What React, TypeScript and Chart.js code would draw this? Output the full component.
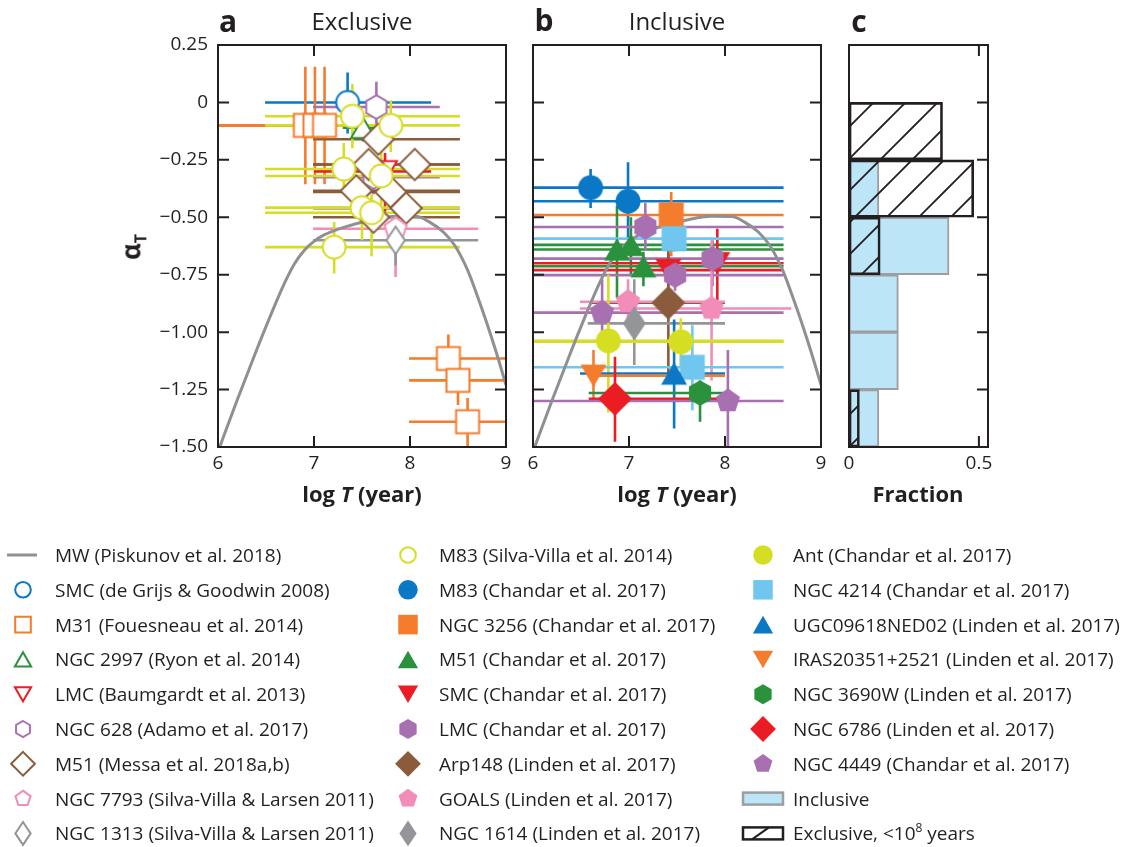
import React, { useEffect, useRef } from 'react';
import { Chart, registerables } from 'chart.js';

Chart.register(...registerables);

const W = 1125;
const H = 847;
const FONT = "'Open Sans', 'Noto Sans', 'DejaVu Sans', sans-serif";
const INK = '#231f20';

// ---------- axes ----------
const LOGT_MIN = 6;
const LOGT_MAX = 9;
const ALPHA_MIN = -1.5;
const ALPHA_MAX = 0.25;
const LOGT_TICKS = [6, 7, 8, 9];
const LOGT_TICK_LABELS = ['6', '7', '8', '9'];
const LOGT_INNER_TICKS = [7, 8];
const ALPHA_TICKS = [-1.5, -1.25, -1, -0.75, -0.5, -0.25, 0, 0.25];
const ALPHA_TICK_LABELS = ['−1.50', '−1.25', '−1.00', '−0.75', '−0.50', '−0.25', '0', '0.25'];
const ALPHA_INNER_TICKS = [-1.25, -1, -0.75, -0.5, -0.25, 0];
const FRACTION_MAX = 0.535;
const FRACTION_TICKS = [0, 0.5];
const FRACTION_TICK_LABELS = ['0', '0.5'];

// ---------- MW curve (Piskunov et al. 2018) ----------
const MW_LOGT = [6.0, 6.2, 6.4, 6.6, 6.7, 6.8, 6.9, 7.0, 7.1, 7.3, 7.59, 7.86, 8.07, 8.2, 8.35, 8.47, 8.6, 8.7, 8.8, 8.9, 9.0];
const MW_ALPHA = [-1.52, -1.295, -1.08, -0.875, -0.78, -0.7, -0.643, -0.605, -0.578, -0.545, -0.513, -0.496, -0.497, -0.52, -0.565, -0.625, -0.73, -0.84, -0.96, -1.09, -1.23];

// ---------- rows: [logT, alpha, logT low, logT high, alpha low, alpha high] ----------
// Panel a (exclusive)
const SMC_DEGRIJS = [[7.35, 0.0, 6.49, 8.22, -0.135, 0.13]];
const M31_FOUESNEAU = [
  [6.91, -0.1, 5.5, 7.5, -0.356, 0.155],
  [7.01, -0.1, 5.5, 7.5, -0.356, 0.155],
  [7.11, -0.1, 5.5, 7.5, -0.356, 0.155],
  [8.4, -1.115, 7.99, 9.3, -1.22, -1.01],
  [8.5, -1.21, 7.99, 9.3, -1.317, -1.12],
  [8.6, -1.39, 7.99, 9.3, -1.6, -1.287],
];
const NGC2997_RYON = [[7.51, -0.11, 7.3, 7.7, -0.17, -0.05]];
const LMC_BAUMGARDT = [[7.74, -0.3, 7.0, 8.22, -0.48, -0.22]];
const NGC628_ADAMO = [
  [7.65, -0.02, 6.99, 8.31, -0.13, 0.09],
  [7.62, -0.325, 6.99, 8.31, -0.4, -0.25],
];
const M51_MESSA = [
  [7.67, -0.16, 6.99, 8.52, -0.21, -0.11],
  [7.57, -0.27, 6.99, 8.52, -0.32, -0.22],
  [8.05, -0.27, 6.99, 8.52, -0.32, -0.22],
  [7.44, -0.385, 6.99, 8.52, -0.43, -0.34],
  [7.8, -0.39, 6.99, 8.52, -0.44, -0.34],
  [7.96, -0.46, 6.99, 8.52, -0.51, -0.41],
  [7.62, -0.5, 6.99, 8.52, -0.55, -0.45],
];
const NGC7793_SV = [[7.85, -0.55, 6.99, 8.71, -0.76, -0.5]];
const NGC1313_SV = [[7.85, -0.6, 6.99, 8.71, -0.71, -0.5]];
const M83_SV = [
  [7.4, -0.06, 6.49, 8.52, -0.2, 0.08],
  [7.8, -0.1, 6.49, 8.52, -0.216, 0.01],
  [7.31, -0.29, 6.49, 8.52, -0.397, -0.177],
  [7.7, -0.32, 6.49, 8.52, -0.45, -0.2],
  [7.5, -0.458, 6.49, 8.52, -0.6, -0.36],
  [7.6, -0.48, 6.49, 8.52, -0.67, -0.4],
  [7.21, -0.63, 6.49, 8.52, -0.745, -0.52],
];

// Panel b (inclusive)
const M83_CHANDAR = [
  [6.6, -0.371, 5.5, 8.61, -0.46, -0.29],
  [6.99, -0.43, 5.5, 8.61, -0.59, -0.26],
];
const NGC3256_CHANDAR = [[7.44, -0.49, 5.5, 8.61, -0.67, -0.39]];
const M51_CHANDAR = [
  [6.875, -0.64, 5.5, 8.61, -0.85, -0.45],
  [7.02, -0.62, 5.5, 8.61, -0.75, -0.5],
  [7.15, -0.713, 5.5, 8.61, -0.8, -0.65],
];
const SMC_CHANDAR = [
  [7.41, -0.73, 5.5, 8.61, -0.8, -0.66],
  [7.92, -0.7, 5.5, 8.61, -0.86, -0.55],
];
const LMC_CHANDAR = [
  [7.17, -0.542, 5.5, 8.61, -0.643, -0.438],
  [7.87, -0.68, 5.5, 8.61, -0.8, -0.6],
  [7.48, -0.752, 5.5, 8.61, -0.82, -0.7],
];
const ARP148_LINDEN = [[7.41, -0.872, 6.6, 8.0, -1.21, -0.64]];
const GOALS_LINDEN = [
  [6.99, -0.868, 6.49, 8.0, -0.96, -0.77],
  [7.86, -0.897, 6.49, 8.69, -1.21, -0.6],
];
const NGC1614_LINDEN = [[7.055, -0.962, 6.57, 8.0, -1.143, -0.77]];
const ANT_CHANDAR = [
  [6.785, -1.038, 5.5, 8.61, -1.35, -0.75],
  [7.54, -1.042, 5.5, 8.61, -1.15, -0.94],
];
const NGC4214_CHANDAR = [
  [7.47, -0.593, 5.5, 8.61, -0.65, -0.5],
  [7.66, -1.153, 5.5, 8.61, -1.34, -0.97],
];
const UGC09618_LINDEN = [[7.47, -1.18, 6.49, 8.0, -1.42, -0.945]];
const IRAS20351_LINDEN = [[6.63, -1.19, 6.58, 8.0, -1.296, -1.078]];
const NGC3690W_LINDEN = [[7.74, -1.265, 6.58, 8.02, -1.39, -1.21]];
const NGC6786_LINDEN = [[6.854, -1.29, 6.58, 8.02, -1.477, -1.107]];
const NGC4449_CHANDAR = [
  [6.72, -0.915, 5.5, 8.61, -1.0, -0.77],
  [8.03, -1.3, 5.5, 8.61, -1.6, -1.078],
];

// Panel c (histogram, bin centres of alpha, fraction)
const BIN_CENTERS = [-1.375, -1.125, -0.875, -0.625, -0.375, -0.125];
const INCLUSIVE_FRAC = [0.115, 0.19, 0.19, 0.385, 0.115, null];
const EXCLUSIVE_FRAC = [0.04, null, null, 0.12, 0.48, 0.36];

// ---------- styles ----------
const BLUE = '#0b78c6';
const ORANGE = '#f47c2c';
const GREEN = '#2a913d';
const RED = '#ec1c24';
const PURPLE = '#a870b1';
const BROWN = '#8b5c3b';
const PINK = '#f28cb9';
const GRAY = '#939598';
const YELLOW = '#d6de23';
const LIGHTBLUE = '#6fc7f0';
const MW_GRAY = '#8f9093';
const HIST_BLUE = '#bde5f8';
const HIST_EDGE = '#9c9ea1';

type Shape = 'circle' | 'square' | 'triUp' | 'triDown' | 'hex' | 'pent' | 'diamond' | 'thin';
interface Series { label: string; rows: number[][]; color: string; shape: Shape; open: boolean; size?: number; }

const EXCLUSIVE_SERIES: Series[] = [
  { label: 'SMC (de Grijs & Goodwin 2008)', rows: SMC_DEGRIJS, color: BLUE, shape: 'circle', open: true },
  { label: 'M31 (Fouesneau et al. 2014)', rows: M31_FOUESNEAU, color: ORANGE, shape: 'square', open: true },
  { label: 'NGC 2997 (Ryon et al. 2014)', rows: NGC2997_RYON, color: GREEN, shape: 'triUp', open: true },
  { label: 'LMC (Baumgardt et al. 2013)', rows: LMC_BAUMGARDT, color: RED, shape: 'triDown', open: true },
  { label: 'NGC 628 (Adamo et al. 2017)', rows: NGC628_ADAMO, color: PURPLE, shape: 'hex', open: true },
  { label: 'M51 (Messa et al. 2018a,b)', rows: M51_MESSA, color: BROWN, shape: 'diamond', open: true },
  { label: 'NGC 7793 (Silva-Villa & Larsen 2011)', rows: NGC7793_SV, color: PINK, shape: 'pent', open: true },
  { label: 'NGC 1313 (Silva-Villa & Larsen 2011)', rows: NGC1313_SV, color: GRAY, shape: 'thin', open: true },
  { label: 'M83 (Silva-Villa et al. 2014)', rows: M83_SV, color: YELLOW, shape: 'circle', open: true },
];

const INCLUSIVE_SERIES: Series[] = [
  { label: 'M83 (Chandar et al. 2017)', rows: M83_CHANDAR, color: BLUE, shape: 'circle', open: false },
  { label: 'NGC 3256 (Chandar et al. 2017)', rows: NGC3256_CHANDAR, color: ORANGE, shape: 'square', open: false },
  { label: 'M51 (Chandar et al. 2017)', rows: M51_CHANDAR, color: GREEN, shape: 'triUp', open: false },
  { label: 'SMC (Chandar et al. 2017)', rows: SMC_CHANDAR, color: RED, shape: 'triDown', open: false },
  { label: 'LMC (Chandar et al. 2017)', rows: LMC_CHANDAR, color: PURPLE, shape: 'hex', open: false },
  { label: 'Arp148 (Linden et al. 2017)', rows: ARP148_LINDEN, color: BROWN, shape: 'diamond', open: false },
  { label: 'GOALS (Linden et al. 2017)', rows: GOALS_LINDEN, color: PINK, shape: 'pent', open: false },
  { label: 'NGC 1614 (Linden et al. 2017)', rows: NGC1614_LINDEN, color: GRAY, shape: 'thin', open: false, size: 1.15 },
  { label: 'Ant (Chandar et al. 2017)', rows: ANT_CHANDAR, color: YELLOW, shape: 'circle', open: false },
  { label: 'NGC 4214 (Chandar et al. 2017)', rows: NGC4214_CHANDAR, color: LIGHTBLUE, shape: 'square', open: false },
  { label: 'UGC09618NED02 (Linden et al. 2017)', rows: UGC09618_LINDEN, color: BLUE, shape: 'triUp', open: false },
  { label: 'IRAS20351+2521 (Linden et al. 2017)', rows: IRAS20351_LINDEN, color: ORANGE, shape: 'triDown', open: false },
  { label: 'NGC 3690W (Linden et al. 2017)', rows: NGC3690W_LINDEN, color: GREEN, shape: 'hex', open: false },
  { label: 'NGC 6786 (Linden et al. 2017)', rows: NGC6786_LINDEN, color: RED, shape: 'diamond', open: false },
  { label: 'NGC 4449 (Chandar et al. 2017)', rows: NGC4449_CHANDAR, color: PURPLE, shape: 'pent', open: false },
];

// ---------- marker drawing ----------
function shapePoints(shape: Shape): number[][] {
  const poly = (n: number, r: number) =>
    Array.from({ length: n }, (_, k) => {
      const a = (-90 + (360 / n) * k) * Math.PI / 180;
      return [r * Math.cos(a), r * Math.sin(a)];
    });
  switch (shape) {
    case 'square': return [[-12.5, -12.5], [12.5, -12.5], [12.5, 12.5], [-12.5, 12.5]];
    case 'triUp': return [[0, -11.25], [13, 11.25], [-13, 11.25]];
    case 'triDown': return [[0, 11.25], [13, -11.25], [-13, -11.25]];
    case 'hex': return poly(6, 12.8);
    case 'pent': return poly(5, 12.7);
    case 'diamond': return [[0, -17], [17, 0], [0, 17], [-17, 0]];
    case 'thin': return [[0, -15], [10, 0], [0, 15], [-10, 0]];
    default: return [];
  }
}

function drawMarker(ctx: CanvasRenderingContext2D, shape: Shape, color: string, open: boolean, s: number, cx: number, cy: number) {
  const k = open ? s * 0.92 : s;
  ctx.save();
  ctx.translate(cx, cy);
  ctx.beginPath();
  if (shape === 'circle') {
    ctx.arc(0, 0, 12.5 * k, 0, Math.PI * 2);
  } else {
    shapePoints(shape).forEach(([x, y], i) => (i ? ctx.lineTo(x * k, y * k) : ctx.moveTo(x * k, y * k)));
    ctx.closePath();
  }
  if (open) {
    ctx.fillStyle = '#ffffff';
    ctx.fill();
    ctx.lineWidth = 2;
    ctx.lineJoin = 'miter';
    ctx.strokeStyle = color;
    ctx.stroke();
  } else {
    ctx.fillStyle = color;
    ctx.fill();
  }
  ctx.restore();
}

function makeMarker(shape: Shape, color: string, open: boolean, s: number): HTMLCanvasElement {
  const c = document.createElement('canvas');
  c.width = 56;
  c.height = 56;
  const g = c.getContext('2d')!;
  drawMarker(g, shape, color, open, s, 28, 28);
  return c;
}

// ---------- plugins ----------
const errorBarPlugin = {
  id: 'errbars',
  beforeDatasetsDraw(chart: any) {
    const { ctx, chartArea: a, scales } = chart;
    const xs = scales.x;
    const ys = scales.y;
    ctx.save();
    ctx.beginPath();
    ctx.rect(a.left, a.top, a.right - a.left, a.bottom - a.top);
    ctx.clip();
    ctx.lineCap = 'butt';
    ctx.lineWidth = 2.6;
    chart.data.datasets.forEach((ds: any) => {
      if (!ds.errRows) return;
      ctx.strokeStyle = ds.errColor;
      ds.errRows.forEach((r: number[]) => {
        const px = xs.getPixelForValue(r[0]);
        const py = ys.getPixelForValue(r[1]);
        ctx.beginPath();
        ctx.moveTo(xs.getPixelForValue(r[2]), py);
        ctx.lineTo(xs.getPixelForValue(r[3]), py);
        ctx.moveTo(px, ys.getPixelForValue(r[4]));
        ctx.lineTo(px, ys.getPixelForValue(r[5]));
        ctx.stroke();
      });
    });
    ctx.restore();
  },
};

const framePlugin = {
  id: 'frame',
  afterDatasetsDraw(chart: any, _args: any, opts: any) {
    const { ctx, chartArea: a, scales } = chart;
    const L = 11;
    ctx.save();
    ctx.strokeStyle = INK;
    ctx.lineWidth = 2;
    ctx.beginPath();
    (opts.xTicks || []).forEach((v: number) => {
      const p = scales.x.getPixelForValue(v);
      ctx.moveTo(p, a.top);
      ctx.lineTo(p, a.top + L);
      ctx.moveTo(p, a.bottom);
      ctx.lineTo(p, a.bottom - L);
    });
    (opts.yLeft || []).forEach((v: number) => {
      const p = scales.y.getPixelForValue(v);
      ctx.moveTo(a.left, p);
      ctx.lineTo(a.left + L, p);
    });
    (opts.yRight || []).forEach((v: number) => {
      const p = scales.y.getPixelForValue(v);
      ctx.moveTo(a.right, p);
      ctx.lineTo(a.right - L, p);
    });
    ctx.stroke();
    ctx.strokeRect(a.left, a.top, a.right - a.left, a.bottom - a.top);
    ctx.restore();
  },
};

const tickFont = { family: FONT, size: 19 };

function xAxis(min: number, max: number, ticks: number[], labels: string[]) {
  return {
    type: 'linear',
    min,
    max,
    afterBuildTicks: (s: any) => { s.ticks = ticks.map((v) => ({ value: v })); },
    afterFit: (s: any) => { s.height = H - 447; },
    grid: { display: false, drawTicks: false },
    border: { display: false },
    ticks: {
      padding: 5,
      color: INK,
      font: tickFont,
      maxRotation: 0,
      autoSkip: false,
      callback: (v: number) => labels[ticks.indexOf(v)] ?? '',
    },
  };
}

function yAxis(show: boolean, width: number) {
  return {
    type: 'linear',
    min: ALPHA_MIN,
    max: ALPHA_MAX,
    display: show,
    offset: false,
    afterBuildTicks: (s: any) => { s.ticks = ALPHA_TICKS.map((v) => ({ value: v })); },
    afterFit: (s: any) => { s.width = width; },
    grid: { display: false, drawTicks: false, offset: false },
    border: { display: false },
    ticks: {
      padding: 10,
      color: INK,
      font: tickFont,
      autoSkip: false,
      callback: (v: number) => ALPHA_TICK_LABELS[ALPHA_TICKS.indexOf(v)] ?? '',
    },
  };
}

function scatterConfig(series: Series[], pad: any, showY: boolean, yWidth: number) {
  const datasets: any[] = [
    {
      label: 'MW (Piskunov et al. 2018)',
      data: MW_LOGT.map((x, i) => ({ x, y: MW_ALPHA[i] })),
      showLine: true,
      borderColor: MW_GRAY,
      borderWidth: 3,
      pointRadius: 0,
      cubicInterpolationMode: 'monotone',
      order: 1000,
      clip: 0,
    },
  ];
  series.forEach((s, i) => {
    datasets.push({
      label: s.label,
      data: s.rows.map((r) => ({ x: r[0], y: r[1] })),
      pointStyle: makeMarker(s.shape, s.color, s.open, s.size || 1),
      pointRadius: 12,
      order: -i,
      clip: false,
      errRows: s.rows,
      errColor: s.color,
    });
  });
  return {
    type: 'scatter',
    data: { datasets },
    plugins: [errorBarPlugin, framePlugin],
    options: {
      responsive: false,
      animation: false,
      devicePixelRatio: 1,
      events: [],
      layout: { padding: pad, autoPadding: false },
      plugins: {
        legend: { display: false },
        tooltip: { enabled: false },
        frame: { xTicks: LOGT_INNER_TICKS, yLeft: ALPHA_INNER_TICKS, yRight: ALPHA_INNER_TICKS },
      },
      scales: {
        x: xAxis(LOGT_MIN, LOGT_MAX, LOGT_TICKS, LOGT_TICK_LABELS),
        y: yAxis(showY, yWidth),
      },
    },
  };
}

function makeHatch(ctx: CanvasRenderingContext2D): CanvasPattern {
  const t = document.createElement('canvas');
  t.width = 32;
  t.height = 32;
  const g = t.getContext('2d')!;
  g.strokeStyle = INK;
  g.lineWidth = 1.9;
  g.beginPath();
  g.moveTo(-4, 20);
  g.lineTo(20, -4);
  g.moveTo(12, 36);
  g.lineTo(36, 12);
  g.stroke();
  return ctx.createPattern(t, 'repeat')!;
}

function histConfig(hatch: CanvasPattern) {
  return {
    type: 'bar',
    data: {
      datasets: [
        {
          label: 'Exclusive, <10^8 years',
          data: BIN_CENTERS.map((y, i) => ({ x: EXCLUSIVE_FRAC[i], y })),
          backgroundColor: hatch,
          borderColor: INK,
          borderWidth: 2,
          borderSkipped: false,
          grouped: false,
          barPercentage: 1,
          categoryPercentage: 1,
          order: 0,
        },
        {
          label: 'Inclusive',
          data: BIN_CENTERS.map((y, i) => ({ x: INCLUSIVE_FRAC[i], y })),
          backgroundColor: HIST_BLUE,
          borderColor: HIST_EDGE,
          borderWidth: 2,
          borderSkipped: false,
          grouped: false,
          barPercentage: 1,
          categoryPercentage: 1,
          order: 1,
        },
      ],
    },
    plugins: [framePlugin],
    options: {
      indexAxis: 'y',
      responsive: false,
      animation: false,
      devicePixelRatio: 1,
      events: [],
      layout: { padding: { left: 849, right: W - 988, top: 45, bottom: 0 }, autoPadding: false },
      plugins: {
        legend: { display: false },
        tooltip: { enabled: false },
        frame: { xTicks: [0.5], yLeft: [], yRight: ALPHA_INNER_TICKS },
      },
      scales: {
        x: { ...xAxis(0, FRACTION_MAX, FRACTION_TICKS, FRACTION_TICK_LABELS), beginAtZero: true },
        y: { ...yAxis(false, 0), ticks: { stepSize: 0.25, display: false } },
      },
    },
  };
}

// ---------- legend ----------
interface LegendItem { kind: 'marker' | 'line' | 'incl' | 'excl'; label: string; series?: Series; }
const S = (list: Series[], label: string) => list.find((s) => s.label === label)!;
const LEGEND_COLUMNS: { markerX: number; textX: number; items: LegendItem[] }[] = [
  {
    markerX: 23,
    textX: 55,
    items: [
      { kind: 'line', label: 'MW (Piskunov et al. 2018)' },
      ...EXCLUSIVE_SERIES.slice(0, 8).map((s) => ({ kind: 'marker' as const, label: s.label, series: s })),
    ],
  },
  {
    markerX: 408,
    textX: 439,
    items: [
      { kind: 'marker', label: 'M83 (Silva-Villa et al. 2014)', series: S(EXCLUSIVE_SERIES, 'M83 (Silva-Villa et al. 2014)') },
      ...INCLUSIVE_SERIES.slice(0, 8).map((s) => ({ kind: 'marker' as const, label: s.label, series: s })),
    ],
  },
  {
    markerX: 763,
    textX: 793,
    items: [
      ...INCLUSIVE_SERIES.slice(8).map((s) => ({ kind: 'marker' as const, label: s.label, series: s })),
      { kind: 'incl', label: 'Inclusive' },
      { kind: 'excl', label: 'Exclusive, <10^8 years' },
    ],
  },
];
const LEGEND_TOP = 555;
const LEGEND_STEP = 34.8;

function legendScale(s: Series) {
  if (s.shape === 'diamond') return 0.76;
  if (s.shape === 'thin') return s.open ? 0.83 : 0.75;
  return s.open ? 0.68 : 0.78;
}

function drawLegendSymbols(canvas: HTMLCanvasElement) {
  const ctx = canvas.getContext('2d')!;
  ctx.clearRect(0, 0, W, H);
  LEGEND_COLUMNS.forEach((col) => {
    col.items.forEach((it, i) => {
      const y = LEGEND_TOP + i * LEGEND_STEP;
      if (it.kind === 'line') {
        ctx.strokeStyle = MW_GRAY;
        ctx.lineWidth = 3;
        ctx.beginPath();
        ctx.moveTo(col.markerX - 16, y);
        ctx.lineTo(col.markerX + 14, y);
        ctx.stroke();
      } else if (it.kind === 'marker' && it.series) {
        const s = it.series;
        drawMarker(ctx, s.shape, s.color, s.open, legendScale(s) * (s.size || 1), col.markerX, y);
      } else if (it.kind === 'incl') {
        ctx.fillStyle = HIST_BLUE;
        ctx.fillRect(743, y - 6, 40, 12);
        ctx.strokeStyle = HIST_EDGE;
        ctx.lineWidth = 2.5;
        ctx.strokeRect(743, y - 6, 40, 12);
      } else if (it.kind === 'excl') {
        ctx.strokeStyle = INK;
        ctx.lineWidth = 2.5;
        ctx.strokeRect(743, y - 6, 40, 12);
        ctx.lineWidth = 2;
        ctx.beginPath();
        ctx.moveTo(752, y + 6);
        ctx.lineTo(769, y - 6);
        ctx.stroke();
      }
    });
  });
}

function LegendText({ it }: { it: LegendItem }) {
  if (it.kind === 'excl') {
    return (
      <span>
        Exclusive, &lt;10<sup style={{ fontSize: 12, verticalAlign: 'baseline', position: 'relative', top: -8 }}>8</sup> years
      </span>
    );
  }
  return <span>{it.label}</span>;
}

const abs: React.CSSProperties = { position: 'absolute', left: 0, top: 0 };

function Label({ x, y, size, bold, children, rotate }: any) {
  return (
    <div
      style={{
        position: 'absolute',
        left: x,
        top: y,
        transform: `translate(-50%, -50%)${rotate ? ` rotate(${rotate}deg)` : ''}`,
        fontSize: size,
        fontWeight: bold ? 700 : 400,
        lineHeight: 1,
        whiteSpace: 'nowrap',
      }}
    >
      {children}
    </div>
  );
}

export default function App() {
  const aRef = useRef<HTMLCanvasElement>(null);
  const bRef = useRef<HTMLCanvasElement>(null);
  const cRef = useRef<HTMLCanvasElement>(null);
  const legRef = useRef<HTMLCanvasElement>(null);

  useEffect(() => {
    const charts: Chart[] = [];
    charts.push(new Chart(aRef.current!, scatterConfig(EXCLUSIVE_SERIES, { left: 0, right: W - 506, top: 45, bottom: 0 }, true, 218) as any));
    charts.push(new Chart(bRef.current!, scatterConfig(INCLUSIVE_SERIES, { left: 533, right: W - 821, top: 45, bottom: 0 }, false, 0) as any));
    const hatch = makeHatch(cRef.current!.getContext('2d')!);
    charts.push(new Chart(cRef.current!, histConfig(hatch) as any));
    drawLegendSymbols(legRef.current!);
    return () => charts.forEach((c) => c.destroy());
  }, []);

  return (
    <div style={{ position: 'fixed', left: 0, top: 0, width: W, height: H, background: '#fff', fontFamily: FONT, color: INK, overflow: 'hidden' }}>
      <canvas ref={aRef} width={W} height={H} style={{ ...abs, width: W, height: H }} />
      <canvas ref={bRef} width={W} height={H} style={{ ...abs, width: W, height: H }} />
      <canvas ref={cRef} width={W} height={H} style={{ ...abs, width: W, height: H }} />
      <canvas ref={legRef} width={W} height={H} style={{ ...abs, width: W, height: H }} />

      <Label x={228} y={21} size={30} bold>a</Label>
      <Label x={362} y={21} size={24}>Exclusive</Label>
      <Label x={544} y={20} size={30} bold>b</Label>
      <Label x={677} y={21} size={24}>Inclusive</Label>
      <Label x={859} y={21} size={30} bold>c</Label>

      <Label x={362} y={493} size={22} bold>log <i>T</i> (year)</Label>
      <Label x={677} y={493} size={22} bold>log <i>T</i> (year)</Label>
      <Label x={918} y={493} size={22} bold>Fraction</Label>
      <Label x={133} y={247} size={26} bold rotate={-90}>
        α<sub style={{ fontSize: 16 }}>T</sub>
      </Label>

      {LEGEND_COLUMNS.map((col, ci) =>
        col.items.map((it, i) => (
          <div
            key={`${ci}-${i}`}
            style={{
              position: 'absolute',
              left: col.textX,
              top: LEGEND_TOP + i * LEGEND_STEP,
              transform: 'translateY(-50%)',
              fontSize: 19,
              lineHeight: 1,
              whiteSpace: 'nowrap',
            }}
          >
            <LegendText it={it} />
          </div>
        ))
      )}
    </div>
  );
}
